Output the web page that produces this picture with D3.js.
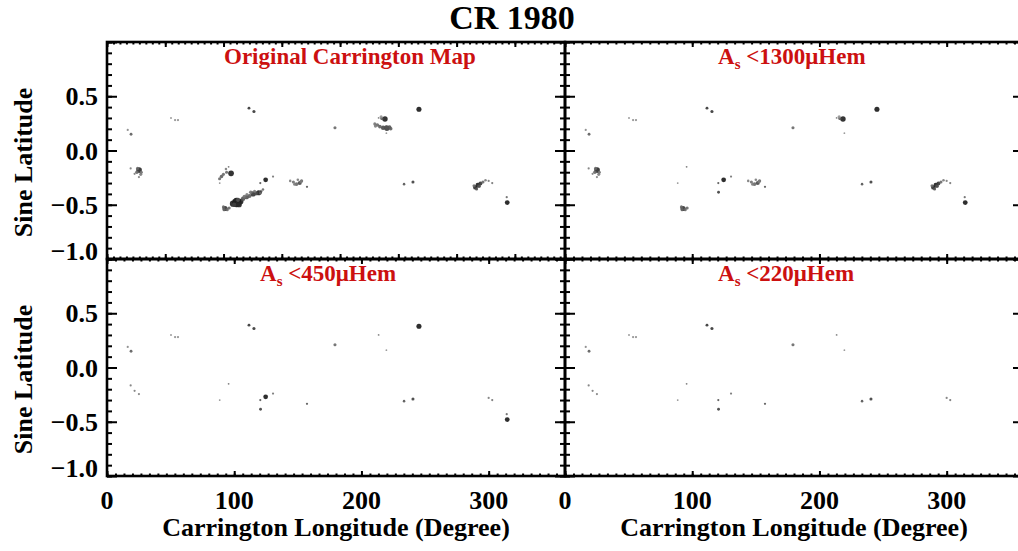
<!DOCTYPE html>
<html><head><meta charset="utf-8">
<script src="https://cdn.jsdelivr.net/npm/d3@7"></script>
<style>body{margin:0;background:#fff}svg{display:block}</style>
</head><body>
<svg id="chart" width="1018" height="551"></svg>
<script>
// ---------------- data ----------------
const chartTitle = "CR 1980";
const panelTitleText = ["Original Carrington Map", " <1300\u03bcHem", " <450\u03bcHem", " <220\u03bcHem"];
const panelTitleHasAs = [false, true, true, true];
const panelLimits = [Infinity, 1300, 450, 220];   // region area threshold (μHem)
const xTickValues = [0, 100, 200, 300];
const xTickLabels = ["0", "100", "200", "300"];
const yTickValues = [0.5, 0.0, -0.5, -1.0];
const yTickLabels = ["0.5", "0.0", "\u22120.5", "\u22121.0"];
const xLabel = "Carrington Longitude (Degree)";
const yLabel = "Sine Latitude";

// sunspot features
const spotLon   = [16.3,18.9,50.3,53.5,55.8,111.6,115.5,179.2,245.2,
  210.5,212.5,214.5,217,220,222,218.5,216,213.5,219.6,
  18.6,21.7,25.1,25.2,23.5,26.5,
  88.5,90,91.5,94,93.5,97.5,95.6,88.6,
  92.8,91.5,94.5,102,99,105,107,109.8,112,114.8,117,119.2,110,122.6,120.5,120.7,124.7,130.5,
  144,146.5,149,151.5,153,150,157.2,233.5,240.5,
  289.5,291.5,293.5,295.5,297.5,290.5,300,302.8,314.6,314.2,
  100,104,103,108,113,116,121,92,96,147.5,152.5,292.5,288.5,
  211,223,219.5,215.5,24,27,120.6];
const spotLat   = [0.19,0.15,0.30,0.28,0.28,0.39,0.36,0.21,0.38,
  0.245,0.235,0.22,0.21,0.205,0.215,0.29,0.295,0.30,0.16,
  -0.165,-0.215,-0.245,-0.18,-0.20,-0.22,
  -0.26,-0.24,-0.22,-0.20,-0.17,-0.21,-0.15,-0.30,
  -0.535,-0.52,-0.545,-0.48,-0.49,-0.47,-0.445,-0.43,-0.42,-0.40,-0.395,-0.39,-0.405,-0.36,-0.30,-0.385,-0.27,-0.24,
  -0.28,-0.29,-0.31,-0.30,-0.28,-0.27,-0.335,-0.31,-0.29,
  -0.34,-0.32,-0.305,-0.29,-0.275,-0.355,-0.28,-0.30,-0.48,-0.43,
  -0.50,-0.50,-0.455,-0.425,-0.385,-0.375,-0.375,-0.545,-0.53,-0.31,-0.285,-0.33,-0.325,
  0.225,0.20,0.215,0.31,-0.165,-0.20,-0.395];
const spotSize  = [1.5,2.5,1.2,1.5,1.5,2.5,3,3,8,
  3,4,4,6,9,5,9,3,1,1,
  1.5,1.5,1.5,10,4,3,
  3,4,3,3,2,10,1,1,
  8,3,3,28,12,10,6,6,5,8,6,8,3,2,1.5,2.5,7,1.5,
  2,3,4,5,3,2,1.5,2,3,
  6,7,5,3,2,3,1.5,1.5,7,1.5,
  6,8,5,4,4,3,3,3,3,3,3,4,3,
  3,4,5,3,3,3,2];
const spotDepth = [0.35,0.55,0.3,0.35,0.35,0.75,0.75,0.5,0.9,
  0.45,0.5,0.55,0.65,0.7,0.6,0.85,0.6,0.4,0.3,
  0.4,0.4,0.4,0.8,0.5,0.4,
  0.5,0.55,0.5,0.5,0.4,0.85,0.45,0.35,
  0.75,0.5,0.5,0.95,0.85,0.85,0.6,0.6,0.55,0.75,0.65,0.85,0.4,0.5,0.6,0.7,0.9,0.45,
  0.4,0.45,0.5,0.65,0.5,0.4,0.6,0.6,0.7,
  0.8,0.85,0.75,0.5,0.4,0.6,0.4,0.45,0.9,0.5,
  0.7,0.8,0.6,0.45,0.45,0.4,0.4,0.5,0.5,0.4,0.4,0.6,0.5,
  0.4,0.55,0.6,0.3,0.5,0.45,0.5];
const regionArea = [30,30,40,40,40,60,60,50,400,
  1500,1500,1500,1500,1500,1500,700,700,100,100,
  100,100,100,800,800,800,
  2000,2000,2000,2000,2000,2000,100,100,
  900,900,900,5000,5000,5000,5000,5000,5000,5000,5000,5000,5000,5000,100,100,350,100,
  700,700,700,700,700,700,100,100,100,
  900,900,900,900,900,900,100,100,350,350,
  5000,5000,5000,5000,5000,5000,5000,900,900,700,700,900,900,
  1500,1500,1500,700,800,800,5000];

// ---------------- layout ----------------
const W = 1018, H = 551;
const colX = [107, 565, 1023];
const rowY = [42, 259, 476];
const serif = "'Liberation Serif','Times New Roman',Times,serif";
const red = "#cc1010";

const svg = d3.select("#chart");
svg.append("rect").attr("width", W).attr("height", H).attr("fill", "#fff");
const defs = svg.append("defs");
defs.append("filter").attr("id", "soft").attr("x", "-50%").attr("y", "-50%").attr("width", "200%").attr("height", "200%")
  .append("feGaussianBlur").attr("stdDeviation", 0.6);

const spots = spotLon.map((d, i) => ({lon: d, lat: spotLat[i], size: spotSize[i], depth: spotDepth[i], area: regionArea[i]}));
const rScale = d3.scaleSqrt().domain([0, 100]).range([0, 9]);
const gray = d3.scaleLinear().domain([0, 1]).range(["#cfcfcf", "#000000"]);

svg.append("text").attr("x", 512).attr("y", 29).attr("text-anchor", "middle")
  .attr("font-family", serif).attr("font-weight", "bold").attr("font-size", 34).text(chartTitle);

for (let p = 0; p < 4; p++) {
  const c = p % 2, r = Math.floor(p / 2);
  const x0 = colX[c], x1 = colX[c + 1], y0 = rowY[r], y1 = rowY[r + 1];
  const x = d3.scaleLinear().domain([0, 360]).range([x0, x1]);
  const y = d3.scaleLinear().domain([-1, 1]).range([y1, y0]);
  const g = svg.append("g");
  const cid = "clip" + p;
  defs.append("clipPath").attr("id", cid).append("rect").attr("x", x0).attr("y", y0).attr("width", x1 - x0).attr("height", y1 - y0);

  // spots (largest first so small dark cores stay visible)
  g.append("g").attr("clip-path", `url(#${cid})`).append("g").attr("filter", "url(#soft)")
    .selectAll("circle").data(spots.filter(s => s.area < panelLimits[p]).sort((a, b) => b.size - a.size)).join("circle")
    .attr("cx", d => x(d.lon)).attr("cy", d => y(d.lat)).attr("r", d => Math.max(0.9, rScale(d.size)))
    .attr("fill", d => gray(d.depth)).attr("fill-opacity", 0.9);

  // axes with inward ticks
  const yMajor = d3.range(-1, 1.0001, 0.5), yMinor = d3.range(-1, 1.0001, 0.1);
  const ax = g.append("g");
  ax.append("g").attr("transform", `translate(${x0},0)`).call(d3.axisLeft(y).tickValues(yMinor).tickSize(-5).tickFormat(""));
  ax.append("g").attr("transform", `translate(${x0},0)`).call(d3.axisLeft(y).tickValues(yMajor).tickSize(-10).tickFormat(""));
  ax.append("g").attr("transform", `translate(${x1},0)`).call(d3.axisRight(y).tickValues(yMinor).tickSize(-5).tickFormat(""));
  ax.append("g").attr("transform", `translate(${x1},0)`).call(d3.axisRight(y).tickValues(yMajor).tickSize(-10).tickFormat(""));
  let xMajor, xMinor;
  if (p === 0) {
    const step = 45.8;
    xMajor = d3.range(0, 361, step); xMinor = d3.range(0, 361, step / 9);
  } else {
    xMajor = d3.range(0, 361, 100); xMinor = d3.range(0, 361, 100 / 15);
  }
  ax.append("g").attr("transform", `translate(0,${y1})`).call(d3.axisBottom(x).tickValues(xMinor).tickSize(-2.5).tickFormat(""));
  ax.append("g").attr("transform", `translate(0,${y1})`).call(d3.axisBottom(x).tickValues(xMajor).tickSize(-5).tickFormat(""));
  ax.append("g").attr("transform", `translate(0,${y0})`).call(d3.axisTop(x).tickValues(xMinor).tickSize(-2.5).tickFormat(""));
  ax.append("g").attr("transform", `translate(0,${y0})`).call(d3.axisTop(x).tickValues(xMajor).tickSize(-5).tickFormat(""));
  ax.selectAll(".domain").remove();
  ax.selectAll("line").attr("stroke", "#000").attr("stroke-width", 2);

  g.append("rect").attr("x", x0).attr("y", y0).attr("width", x1 - x0).attr("height", y1 - y0)
    .attr("fill", "none").attr("stroke", "#000").attr("stroke-width", 2.6);

  // panel title
  const t = g.append("text").attr("x", x0 + (panelTitleHasAs[p] ? 153 : 117)).attr("y", y0 + 22)
    .attr("font-family", serif).attr("font-weight", "bold").attr("font-size", 23).attr("fill", red);
  if (panelTitleHasAs[p]) {
    t.append("tspan").text("A");
    t.append("tspan").attr("font-size", 15).attr("dy", 5).text("s");
    t.append("tspan").attr("dy", -5).text(panelTitleText[p]);
  } else t.text(panelTitleText[p]);

  // y labels on left column
  if (c === 0) {
    g.selectAll("text.yl").data(yTickValues).join("text").attr("class", "yl")
      .attr("x", x0 - 9).attr("y", d => d === -1 ? y(d) - 8 : y(d))
      .attr("dy", "0.35em").attr("text-anchor", "end")
      .attr("font-family", serif).attr("font-weight", "bold").attr("font-size", 26)
      .text((d, i) => yTickLabels[i]);
    svg.append("text").attr("transform", `translate(32,${(y0 + y1) / 2 + 12}) rotate(-90)`)
      .attr("text-anchor", "middle").attr("font-family", serif).attr("font-weight", "bold").attr("font-size", 26).text(yLabel);
  }
  // x labels on bottom row
  if (r === 1) {
    g.selectAll("text.xl").data(xTickValues).join("text").attr("class", "xl")
      .attr("x", d => x(d)).attr("y", 509).attr("text-anchor", "middle")
      .attr("font-family", serif).attr("font-weight", "bold").attr("font-size", 26)
      .text((d, i) => xTickLabels[i]);
    svg.append("text").attr("x", (x0 + x1) / 2).attr("y", 536).attr("text-anchor", "middle")
      .attr("font-family", serif).attr("font-weight", "bold").attr("font-size", 26).text(xLabel);
  }
}
</script>
</body></html>
